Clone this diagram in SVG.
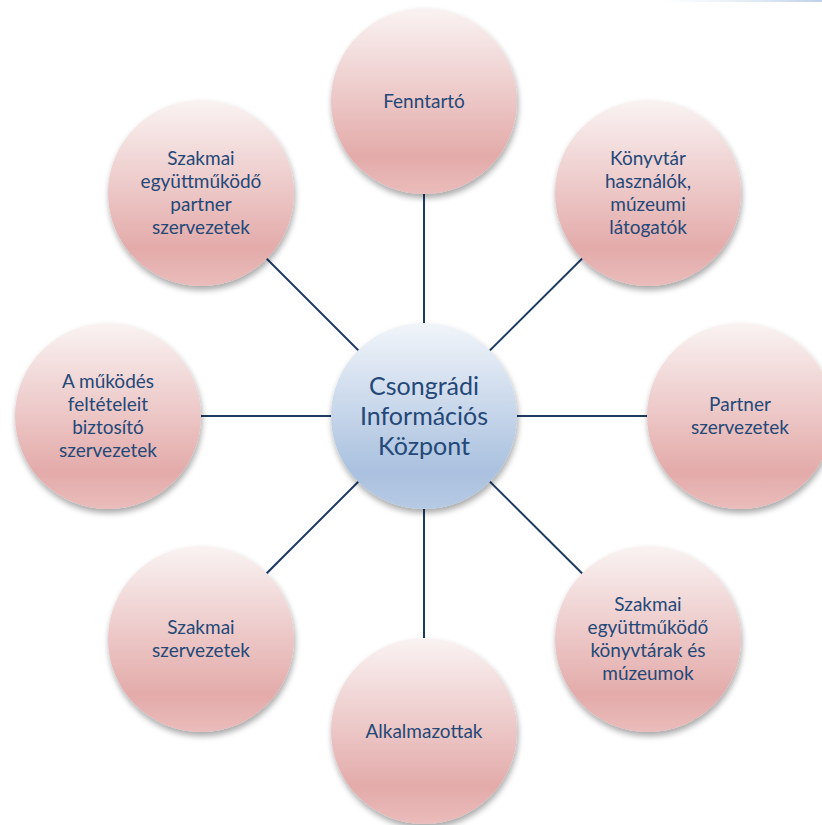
<svg xmlns="http://www.w3.org/2000/svg" width="822" height="825" viewBox="0 0 822 825">
<style>
.edge{stroke:#1F3A62;stroke-width:2;fill:none}
.outer{fill:url(#pink);filter:url(#sh)}
.hub{fill:url(#blue);filter:url(#sh)}
.t{font-family:Lato,"Open Sans","Liberation Sans",sans-serif;font-size:19px;fill:#244877;text-anchor:middle}
.tc{font-family:Lato,"Open Sans","Liberation Sans",sans-serif;font-size:25px;fill:#244877;text-anchor:middle}
</style>
<defs>
<linearGradient id="pink" x1="0" y1="0" x2="0" y2="1">
<stop offset="0" stop-color="#FAF3F3"/>
<stop offset="0.8" stop-color="#E3ABAA"/>
<stop offset="1" stop-color="#EABCBB"/>
</linearGradient>
<linearGradient id="blue" x1="0" y1="0" x2="0" y2="1">
<stop offset="0" stop-color="#F1F5FA"/>
<stop offset="0.8" stop-color="#AAC1DF"/>
<stop offset="1" stop-color="#B6CAE4"/>
</linearGradient>
<linearGradient id="topline" x1="0" y1="0" x2="1" y2="0">
<stop offset="0" stop-color="#DCE6F2" stop-opacity="0"/>
<stop offset="1" stop-color="#BFD0E8"/>
</linearGradient>
<filter id="sh" x="-20%" y="-20%" width="140%" height="140%">
<feGaussianBlur in="SourceAlpha" stdDeviation="3"/>
<feOffset dx="1" dy="4" result="b"/>
<feComponentTransfer><feFuncA type="linear" slope="0.35"/></feComponentTransfer>
<feMerge><feMergeNode/><feMergeNode in="SourceGraphic"/></feMerge>
</filter>
</defs>
<rect width="822" height="825" fill="#FFFFFF"/>
<rect x="660" y="0" width="162" height="2" fill="url(#topline)"/>
<g id="connectors">
<line class="edge" x1="424" y1="416" x2="424" y2="101"/>
<line class="edge" x1="424" y1="416" x2="648" y2="193"/>
<line class="edge" x1="424" y1="416" x2="740" y2="416"/>
<line class="edge" x1="424" y1="416" x2="648" y2="639"/>
<line class="edge" x1="424" y1="416" x2="424" y2="731"/>
<line class="edge" x1="424" y1="416" x2="201" y2="639"/>
<line class="edge" x1="424" y1="416" x2="108" y2="416"/>
<line class="edge" x1="424" y1="416" x2="201" y2="193"/>
</g>
<g id="n-fenntarto">
<circle class="outer" cx="424" cy="101" r="93"/>
<text class="t" x="424" y="107.5">Fenntartó</text>
</g>
<g id="n-konyvtar">
<circle class="outer" cx="648" cy="193" r="93"/>
<text class="t" x="648" y="165">Könyvtár</text>
<text class="t" x="648" y="188">használók,</text>
<text class="t" x="648" y="211">múzeumi</text>
<text class="t" x="648" y="234">látogatók</text>
</g>
<g id="n-partner">
<circle class="outer" cx="740" cy="416" r="93"/>
<text class="t" x="740" y="411">Partner</text>
<text class="t" x="740" y="434">szervezetek</text>
</g>
<g id="n-szakmai-konyvtarak">
<circle class="outer" cx="648" cy="639" r="93"/>
<text class="t" x="648" y="611">Szakmai</text>
<text class="t" x="648" y="634">együttműködő</text>
<text class="t" x="648" y="657">könyvtárak és</text>
<text class="t" x="648" y="680">múzeumok</text>
</g>
<g id="n-alkalmazottak">
<circle class="outer" cx="424" cy="731" r="93"/>
<text class="t" x="424" y="737.5">Alkalmazottak</text>
</g>
<g id="n-szakmai-szervezetek">
<circle class="outer" cx="201" cy="639" r="93"/>
<text class="t" x="201" y="634">Szakmai</text>
<text class="t" x="201" y="657">szervezetek</text>
</g>
<g id="n-mukodes">
<circle class="outer" cx="108" cy="416" r="93"/>
<text class="t" x="108" y="388">A működés</text>
<text class="t" x="108" y="411">feltételeit</text>
<text class="t" x="108" y="434">biztosító</text>
<text class="t" x="108" y="457">szervezetek</text>
</g>
<g id="n-szakmai-partner">
<circle class="outer" cx="201" cy="193" r="93"/>
<text class="t" x="201" y="165">Szakmai</text>
<text class="t" x="201" y="188">együttműködő</text>
<text class="t" x="201" y="211">partner</text>
<text class="t" x="201" y="234">szervezetek</text>
</g>
<g id="n-center">
<circle class="hub" cx="424" cy="416" r="93"/>
<text class="tc" x="424" y="394.5">Csongrádi</text>
<text class="tc" x="424" y="424.5">Információs</text>
<text class="tc" x="424" y="454.5">Központ</text>
</g>
</svg>
